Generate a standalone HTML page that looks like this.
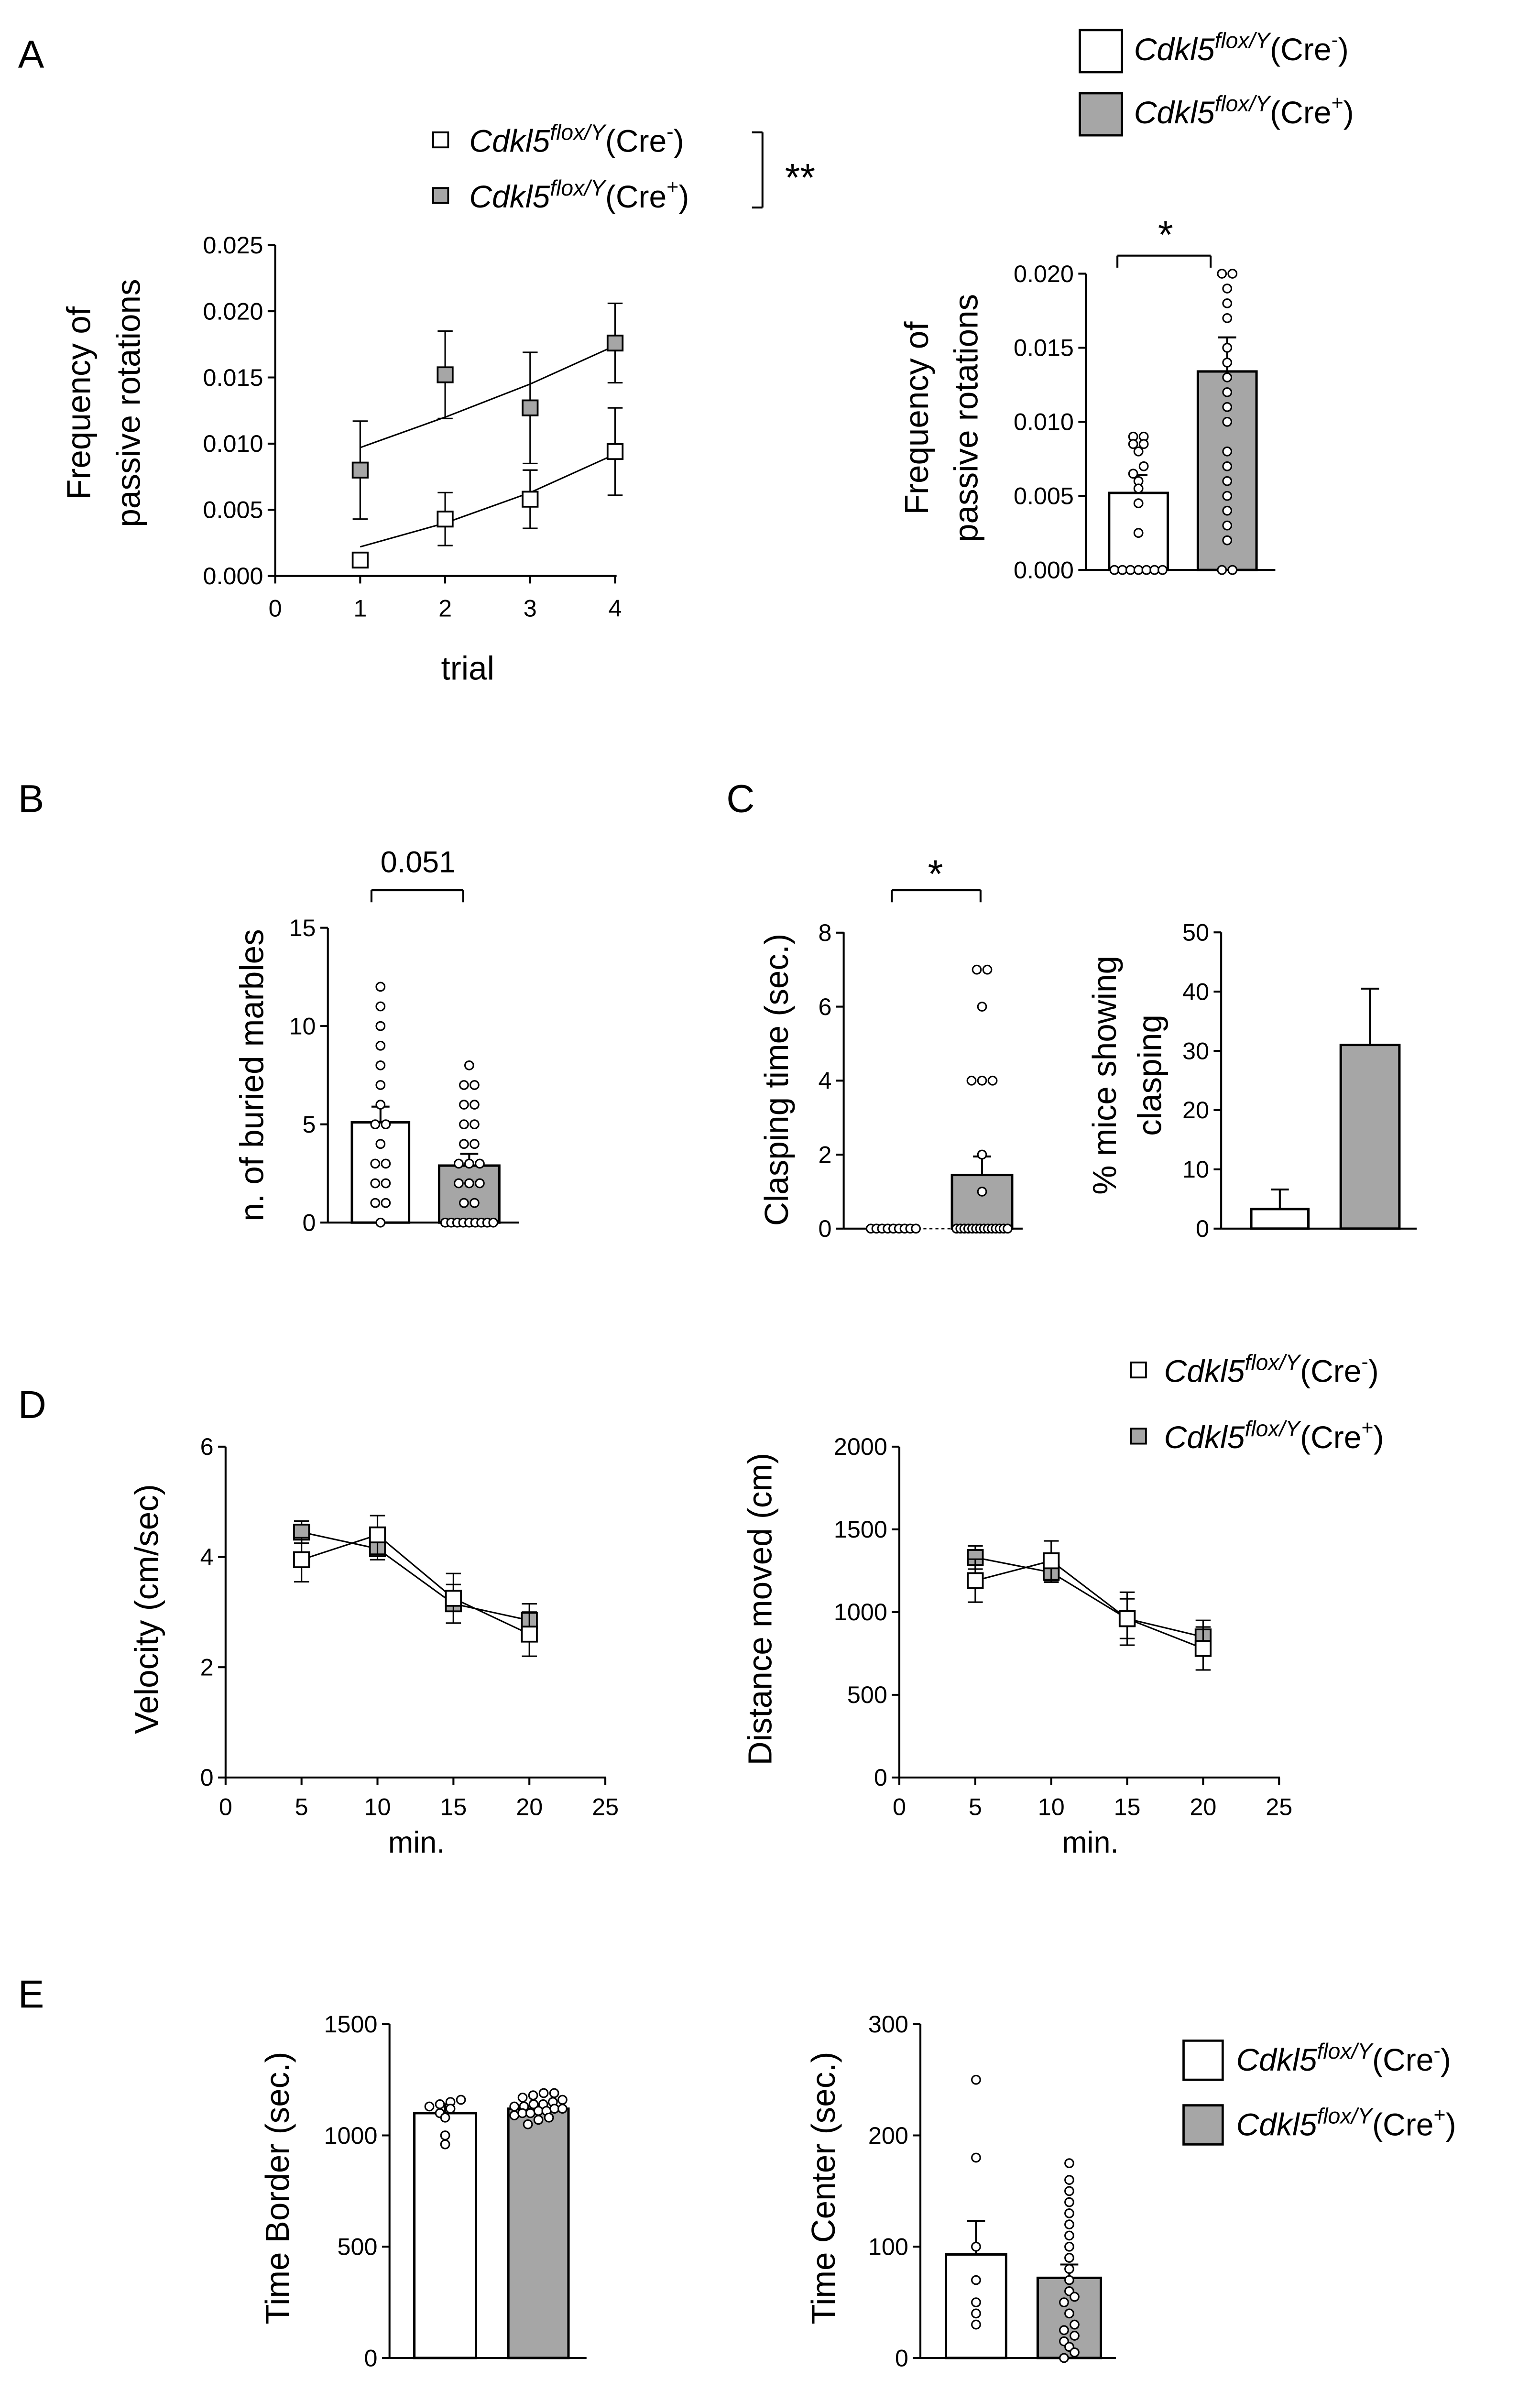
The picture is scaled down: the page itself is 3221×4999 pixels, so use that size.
<!DOCTYPE html>
<html><head><meta charset="utf-8">
<style>
html,body{margin:0;padding:0;background:#fff;}
svg{display:block;font-family:"Liberation Sans",sans-serif;}
</style></head>
<body>
<svg id="fig" width="3221" height="4999" viewBox="0 0 1024 1589.3" preserveAspectRatio="none" xmlns="http://www.w3.org/2000/svg"></svg>
<script>
// ---------- Data ----------
const trials = [1,2,3,4];
const aNegMean = [0.0012,0.0043,0.0058,0.0094];
const aNegErr = [0.0005,0.0020,0.0022,0.0033];
const aPosMean = [0.0080,0.0152,0.0127,0.0176];
const aPosErr = [0.0037,0.0033,0.0042,0.0030];
const aNegFit = [0.0022,0.0040,0.0063,0.0092];
const aPosFit = [0.0097,0.0120,0.0145,0.0174];
const aBarMeans = [0.0052,0.0134];
const aBarErrs = [0.0012,0.0023];
const aNegDots = [0,0,0,0,0,0,0,0.0025,0.0045,0.0055,0.006,0.0065,0.007,0.008,0.0085,0.0085,0.009,0.009];
const aPosDots = [0,0,0.002,0.003,0.004,0.005,0.006,0.007,0.008,0.010,0.011,0.012,0.013,0.014,0.015,0.017,0.018,0.019,0.020,0.020];
const bMeans = [5.1,2.9];
const bErrs = [0.8,0.6];
const bNegDots = [0,1,1,2,2,3,3,4,5,5,6,7,8,9,10,11,12];
const bPosDots = [0,0,0,0,0,0,0,0,0,1,1,2,2,2,3,3,3,4,4,5,5,6,6,7,7,8];
const cMeans = [0,1.45];
const cErrs = [0,0.5];
const cNegDots = [0,0,0,0,0,0,0,0,0];
const cPosDots = [0,0,0,0,0,0,0,0,0,0,0,0,0,0,1,2,4,4,4,6,7,7];
const pctMeans = [3.3,31];
const pctErrs = [3.3,9.5];
const minutes = [5,10,15,20];
const velNeg = [3.95,4.4,3.25,2.6];
const velNegErr = [0.4,0.35,0.45,0.4];
const velPos = [4.45,4.15,3.15,2.85];
const velPosErr = [0.2,0.2,0.35,0.3];
const distNeg = [1190,1310,960,780];
const distNegErr = [130,120,160,130];
const distPos = [1330,1240,960,850];
const distPosErr = [70,60,120,100];
const borderMeans = [1100,1120];
const borderErrs = [40,15];
const borderNegDots = [960,1000,1080,1100,1120,1130,1140,1150,1160];
const borderPosDots = [1050,1070,1080,1090,1100,1100,1110,1110,1120,1120,1130,1130,1140,1140,1150,1160,1170,1180,1190,1190];
const centerMeans = [93,72];
const centerErrs = [30,12];
const centerNegDots = [30,40,50,70,100,180,250];
const centerPosDots = [0,5,10,15,20,25,30,40,50,55,60,70,80,90,100,110,120,130,140,150,160,175];

// ---------- Helpers ----------
const NS="http://www.w3.org/2000/svg";
const svg=document.getElementById('fig');
function mk(tag,attrs,name,parent){
  const el=document.createElementNS(NS,tag);
  for(const k in attrs) el.setAttribute(k,attrs[k]);
  
  
  (parent||svg).appendChild(el);
  return el;
}
function line(x1,y1,x2,y2,name,w){return mk('line',{x1,y1,x2,y2,stroke:'#000','stroke-width':w||1.3},name);}
function text(x,y,s,name,o){o=o||{};
  const t=mk('text',{x,y,'font-size':o.size||16,'text-anchor':o.anchor||'start',fill:'#000'},name);
  if(o.rot) t.setAttribute('transform',`rotate(-90 ${x} ${y})`);
  if(o.html) t.innerHTML=s; else t.textContent=s; return t;}
function legendLabel(x,y,sign,name,size){
  size=size||21;
  return text(x,y,`<tspan font-style="italic">Cdkl5</tspan><tspan font-style="italic" font-size="${size*0.7}" dy="-8">flox/Y</tspan><tspan dy="8">(Cre</tspan><tspan font-size="${size*0.65}" dy="-9">${sign}</tspan><tspan dy="9">)</tspan>`,name,{size,html:true});
}
function yAxis(x,y0,y1,ticks,vals,fmt,scale,name){
  line(x,y0,x,y1,name+'-line');
  vals.forEach(v=>{const y=scale(v);line(x-5,y,x,y,name+'-tick');text(x-8,y+5.5,fmt(v),name+'-tick-label',{anchor:'end'});});
}
function barGroup(cx,w,mean,err,ys,fill,name){
  const y=ys(mean),y0=ys(0);
  if(mean>0) mk('rect',{x:cx-w/2,y:y,width:w,height:y0-y,fill:fill,stroke:'#000','stroke-width':1.6},name);
  if(err>0){line(cx,y,cx,ys(mean+err),name+'-error');line(cx-6,ys(mean+err),cx+6,ys(mean+err),name+'-error-cap');}
}
function dots(cx,vals,ys,name,w){
  w=w||38;
  const groups={};
  vals.forEach(v=>{const k=Math.round(ys(v)/6);(groups[k]=groups[k]||[]).push(v);});
  Object.keys(groups).forEach(k=>{
    const g=groups[k],n=g.length;
    const sp=n>1?Math.min(7,(w-6)/(n-1)):0;
    g.forEach((v,i)=>{
      const off=(i-(n-1)/2)*sp;
      mk('circle',{cx:cx+off,cy:ys(v),r:2.8,fill:'#fff',stroke:'#000','stroke-width':1},name);
    });
  });
}
function sqMarker(x,y,fill,name){mk('rect',{x:x-5,y:y-5,width:10,height:10,fill:fill,stroke:'#000','stroke-width':1.2},name);}
function lineSeries(xs,ys,xv,yv,ev,fill,name){
  const pts=xv.map((t,i)=>`${xs(t)},${ys(yv[i])}`).join(' ');
  mk('polyline',{points:pts,fill:'none',stroke:'#000','stroke-width':1},name+'-line');
  xv.forEach((t,i)=>{const x=xs(t);
    line(x,ys(yv[i]-ev[i]),x,ys(yv[i]+ev[i]),name+'-error',1);
    line(x-5,ys(yv[i]+ev[i]),x+5,ys(yv[i]+ev[i]),name+'-cap',1);
    line(x-5,ys(yv[i]-ev[i]),x+5,ys(yv[i]-ev[i]),name+'-cap',1);
    sqMarker(x,ys(yv[i]),fill,name+'-point');});
}
const GRAY='#a6a6a6';

// ---------- Panel A left ----------
text(12,45,'A','panel-label-a',{size:26});
{
 const xs=t=>183+t*56.5, ys=v=>383-v*8800;
 yAxis(183,383,163,null,[0,0.005,0.01,0.015,0.02,0.025],v=>v.toFixed(3),ys,'a-y-axis');
 line(183,383,410,383,'a-x-axis-line');
 [0,1,2,3,4].forEach(t=>{line(xs(t),383,xs(t),388,'a-x-tick');text(xs(t),410,String(t),'a-x-tick-label',{anchor:'middle'});});
 text(311,452,'trial','a-x-axis-title',{size:22,anchor:'middle'});
 text(60,268,'Frequency of','a-y-axis-title',{size:22,anchor:'middle',rot:true});
 text(93,268,'passive rotations','a-y-axis-title',{size:22,anchor:'middle',rot:true});
 [[aNegFit,'a-fit-cre-neg'],[aPosFit,'a-fit-cre-pos']].forEach(([f,n])=>{
   let d=`M${xs(1)},${ys(f[0])}`;
   for(let i=1;i<4;i++){const xm=(xs(trials[i-1])+xs(trials[i]))/2;d+=` Q${xm},${(ys(f[i-1])+ys(f[i]))/2} ${xs(trials[i])},${ys(f[i])}`;}
   mk('path',{d,fill:'none',stroke:'#000','stroke-width':1},n);
 });
 trials.forEach((t,i)=>{[[aNegMean,aNegErr,'#fff','a-cre-neg'],[aPosMean,aPosErr,GRAY,'a-cre-pos']].forEach(([m,e,f,n])=>{
   const x=xs(t);line(x,ys(m[i]-e[i]),x,ys(m[i]+e[i]),n+'-error',1);
   line(x-5,ys(m[i]+e[i]),x+5,ys(m[i]+e[i]),n+'-cap',1);line(x-5,ys(m[i]-e[i]),x+5,ys(m[i]-e[i]),n+'-cap',1);
   sqMarker(x,ys(m[i]),f,n+'-point');});});
 sqMarker(293,93,'#fff','a-legend-marker-neg');legendLabel(312,101,'-','a-legend-neg');
 sqMarker(293,130,GRAY,'a-legend-marker-pos');legendLabel(312,138,'+','a-legend-pos');
 line(500,88,507,88,'a-bracket');line(507,88,507,138,'a-bracket');line(500,138,507,138,'a-bracket');
 text(532,127,'**','a-significance',{size:26,anchor:'middle'});
}
// ---------- Panel A right ----------
{
 const ys=v=>379-v*9850;
 yAxis(722,379,182,null,[0,0.005,0.01,0.015,0.02],v=>v.toFixed(3),ys,'a2-y-axis');
 line(722,379,848,379,'a2-x-axis-line');
 barGroup(757,39,aBarMeans[0],aBarErrs[0],ys,'#fff','a2-bar-cre-neg');
 barGroup(816,39,aBarMeans[1],aBarErrs[1],ys,GRAY,'a2-bar-cre-pos');
 dots(757,aNegDots,ys,'a2-dot-cre-neg');dots(816,aPosDots,ys,'a2-dot-cre-pos');
 text(617,278,'Frequency of','a2-y-axis-title',{size:22,anchor:'middle',rot:true});
 text(650,278,'passive rotations','a2-y-axis-title',{size:22,anchor:'middle',rot:true});
 line(743,170,805,170,'a2-bracket');line(743,170,743,178,'a2-bracket');line(805,170,805,178,'a2-bracket');
 text(775,165,'*','a2-significance',{size:26,anchor:'middle'});
 mk('rect',{x:718,y:20,width:28,height:28,fill:'#fff',stroke:'#000','stroke-width':1.5},'legend-box-cre-neg');
 mk('rect',{x:718,y:62,width:28,height:28,fill:GRAY,stroke:'#000','stroke-width':1.5},'legend-box-cre-pos');
 legendLabel(754,40,'-','legend-label-cre-neg');legendLabel(754,82,'+','legend-label-cre-pos');
}
// ---------- Panel B ----------
text(12,540,'B','panel-label-b',{size:26});
{
 const ys=v=>813-v*13.07;
 yAxis(218,813,617,null,[0,5,10,15],v=>String(v),ys,'b-y-axis');
 line(218,813,345,813,'b-x-axis-line');
 barGroup(253,38,bMeans[0],bErrs[0],ys,'#fff','b-bar-cre-neg');
 barGroup(312,40,bMeans[1],bErrs[1],ys,GRAY,'b-bar-cre-pos');
 dots(253,bNegDots,ys,'b-dot-cre-neg');dots(312,bPosDots,ys,'b-dot-cre-pos');
 text(175,715,'n. of buried marbles','b-y-axis-title',{size:22,anchor:'middle',rot:true});
 line(247,592,308,592,'b-bracket');line(247,592,247,600,'b-bracket');line(308,592,308,600,'b-bracket');
 text(278,580,'0.051','b-p-value',{size:20,anchor:'middle'});
}
// ---------- Panel C ----------
text(483,540,'C','panel-label-c',{size:26});
{
 const ys=v=>817-v*24.6;
 yAxis(561,817,620,null,[0,2,4,6,8],v=>String(v),ys,'c-y-axis');
 line(561,817,578,817,'c-x-axis-line');
 mk('line',{x1:578,y1:817,x2:633,y2:817,stroke:'#000','stroke-width':1,'stroke-dasharray':'2,2'},'c-bar-cre-neg-baseline');
 line(673,817,680,817,'c-x-axis-line');
 barGroup(653,40,cMeans[1],cErrs[1],ys,GRAY,'c-bar-cre-pos');
 dots(594,cNegDots,ys,'c-dot-cre-neg',36);dots(653,cPosDots,ys,'c-dot-cre-pos',40);
 text(524,718,'Clasping time (sec.)','c-y-axis-title',{size:22,anchor:'middle',rot:true});
 line(593,592,652,592,'c-bracket');line(593,592,593,600,'c-bracket');line(652,592,652,600,'c-bracket');
 text(622,590,'*','c-significance',{size:26,anchor:'middle'});
}
{
 const ys=v=>817-v*3.94;
 yAxis(812,817,620,null,[0,10,20,30,40,50],v=>String(v),ys,'c2-y-axis');
 line(812,817,942,817,'c2-x-axis-line');
 barGroup(851,38,pctMeans[0],pctErrs[0],ys,'#fff','c2-bar-cre-neg');
 barGroup(911,39,pctMeans[1],pctErrs[1],ys,GRAY,'c2-bar-cre-pos');
 text(742,715,'% mice showing','c2-y-axis-title',{size:22,anchor:'middle',rot:true});
 text(772,715,'clasping','c2-y-axis-title',{size:22,anchor:'middle',rot:true});
}
// ---------- Panel D ----------
text(12,943,'D','panel-label-d',{size:26});
function dPanel(x0,yTop,maxY,ticks,neg,negE,pos,posE,title,tx,p){
 const xs=t=>x0+t*10.1, ys=v=>1182-v*(220/maxY);
 yAxis(x0,1182,962,null,ticks,v=>String(v),ys,p+'-y-axis');
 line(x0,1182,x0+253,1182,p+'-x-axis-line');
 [0,5,10,15,20,25].forEach(t=>{line(xs(t),1182,xs(t),1187,p+'-x-tick');text(xs(t),1207,String(t),p+'-x-tick-label',{anchor:'middle'});});
 text(x0+127,1232,'min.','d-x-axis-title',{size:20,anchor:'middle'});
 text(tx,1070,title,p+'-y-axis-title',{size:22,anchor:'middle',rot:true});
 lineSeries(xs,ys,minutes,pos,posE,GRAY,p+'-cre-pos');
 lineSeries(xs,ys,minutes,neg,negE,'#fff',p+'-cre-neg');
}
dPanel(150,962,6,[0,2,4,6],velNeg,velNegErr,velPos,velPosErr,'Velocity (cm/sec)',105,'d-velocity');
dPanel(598,962,2000,[0,500,1000,1500,2000],distNeg,distNegErr,distPos,distPosErr,'Distance moved (cm)',513,'d-distance');
sqMarker(757,911,'#fff','d-legend-marker-neg');legendLabel(774,919,'-','d-legend-neg');
sqMarker(757,955,GRAY,'d-legend-marker-pos');legendLabel(774,963,'+','d-legend-pos');
// ---------- Panel E ----------
text(12,1335,'E','panel-label-e',{size:26});
{
 const ys=v=>1568-v*0.148;
 yAxis(259,1568,1346,null,[0,500,1000,1500],v=>String(v),ys,'e-border-y-axis');
 line(259,1568,390,1568,'e-border-x-axis-line');
 barGroup(296,41,borderMeans[0],borderErrs[0],ys,'#fff','e-border-bar-cre-neg');
 barGroup(358,40,borderMeans[1],borderErrs[1],ys,GRAY,'e-border-bar-cre-pos');
 dots(296,borderNegDots,ys,'e-border-dot-cre-neg');dots(358,borderPosDots,ys,'e-border-dot-cre-pos');
 text(192,1455,'Time Border (sec.)','e-border-y-axis-title',{size:22,anchor:'middle',rot:true});
}
{
 const ys=v=>1568-v*0.74;
 yAxis(612,1568,1346,null,[0,100,200,300],v=>String(v),ys,'e-center-y-axis');
 line(612,1568,742,1568,'e-center-x-axis-line');
 barGroup(649,40,centerMeans[0],centerErrs[0],ys,'#fff','e-center-bar-cre-neg');
 barGroup(711,42,centerMeans[1],centerErrs[1],ys,GRAY,'e-center-bar-cre-pos');
 dots(649,centerNegDots,ys,'e-center-dot-cre-neg');dots(711,centerPosDots,ys,'e-center-dot-cre-pos');
 text(555,1455,'Time Center (sec.)','e-center-y-axis-title',{size:22,anchor:'middle',rot:true});
 mk('rect',{x:787,y:1357,width:26,height:26,fill:'#fff',stroke:'#000','stroke-width':1.5},'e-legend-box-cre-neg');
 mk('rect',{x:787,y:1400,width:26,height:26,fill:GRAY,stroke:'#000','stroke-width':1.5},'e-legend-box-cre-pos');
 legendLabel(822,1377,'-','e-legend-label-cre-neg');legendLabel(822,1420,'+','e-legend-label-cre-pos');
}
</script>
</body></html>
